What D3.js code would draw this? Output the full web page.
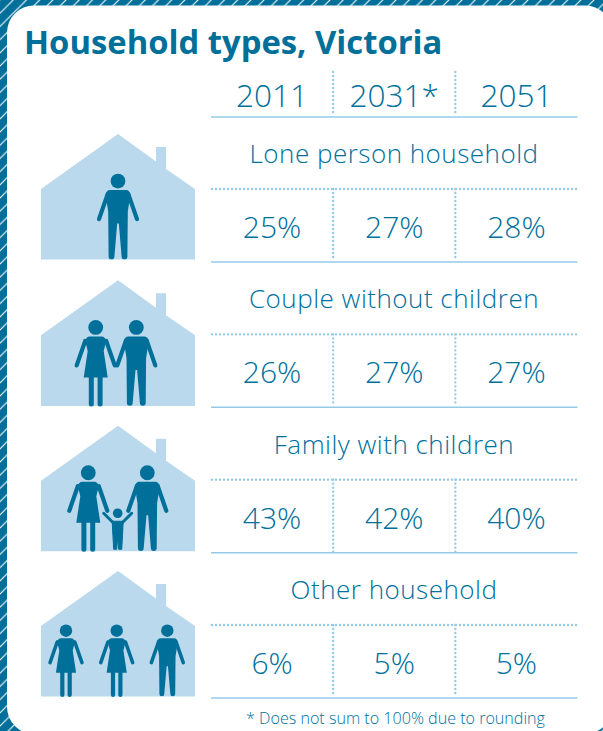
<!DOCTYPE html>
<html><head><meta charset="utf-8">
<script src="https://cdn.jsdelivr.net/npm/d3@7"></script>
<style>html,body{margin:0;padding:0;background:#fff}svg{display:block}text{font-family:"Open Sans",sans-serif;fill:#00709c}</style>
</head><body><svg id="c" width="603" height="731"></svg>
<script>
const titleText = "Household types, Victoria";
const years = ["2011","2031*","2051"];
const householdTypes = ["Lone person household","Couple without children","Family with children","Other household"];
const share2011 = [25,26,43,6];
const share2031 = [27,27,42,5];
const share2051 = [28,27,40,5];
const occupants = [["man"],["woman","man"],["woman","child","man"],["woman","woman","man"]];
const note = "* Does not sum to 100% due to rounding";

const DARK="#006f9a", HOUSE="#bad9ec", RULE="#93cbe7";
const svg=d3.select("#c");
const defs=svg.append("defs");
const pat=defs.append("pattern").attr("id","hatch").attr("width",13.2).attr("height",13.2).attr("patternUnits","userSpaceOnUse");
pat.append("rect").attr("width",13.2).attr("height",13.2).attr("fill",DARK);
pat.append("path").attr("d","M-1,14.2L14.2,-1M-3,3L3,-3M10.2,16.2L16.2,10.2").attr("stroke","#fff").attr("stroke-width",1.1);
svg.append("rect").attr("width",603).attr("height",731).attr("fill","url(#hatch)");
svg.append("rect").attr("x",7).attr("y",5.5).attr("width",605).attr("height",728.5).attr("rx",27).attr("fill","#fff");

svg.append("text").attr("x",24).attr("y",54).attr("font-size",32.8).attr("font-weight",700).style("fill",DARK).text(titleText);

const x=d3.scaleBand().domain(years).range([211,577.5]);
const y=d3.scalePoint().domain(householdTypes).range([0,436]);
const g=svg.append("g");

function dotted(sel,x1,y1,x2,y2){sel.append("line").attr("x1",x1).attr("y1",y1).attr("x2",x2).attr("y2",y2)
  .attr("stroke",RULE).attr("stroke-width",2.4).attr("stroke-linecap","round").attr("stroke-dasharray","0 4");}
function solid(sel,yy){sel.append("line").attr("x1",x.range()[0]).attr("x2",x.range()[1]).attr("y1",yy).attr("y2",yy).attr("stroke",RULE).attr("stroke-width",1.5);}

years.forEach((yr,i)=>{
  g.append("text").attr("x",x(yr)+x.bandwidth()/2).attr("y",107).attr("text-anchor","middle").attr("font-size",31.5).attr("font-weight",300).text(yr);
  if(i>0) dotted(g,x(yr),72,x(yr),116);
});
solid(g,117);

function person(sel,kind,cx,base,s){
  const p=sel.append("g").attr("transform",`translate(${cx},${base}) scale(${s})`).attr("fill",DARK);
  const limb=(a,b,c,d,w)=>p.append("line").attr("x1",a).attr("y1",b).attr("x2",c).attr("y2",d).attr("stroke",DARK).attr("stroke-width",w).attr("stroke-linecap","round");
  if(kind==="child"){
    p.append("circle").attr("cx",0).attr("cy",-38).attr("r",4.8);
    p.append("path").attr("d","M-5.5,-30L5.5,-30L4.8,-16L4,-2L1,-2L0,-14L-1,-2L-4,-2L-4.8,-16Z").attr("stroke",DARK).attr("stroke-width",1).attr("stroke-linejoin","round");
    limb(-4.5,-28.5,-14,-38,3); limb(4.5,-28.5,14,-38,3);
    return;
  }
  p.append("circle").attr("cx",0).attr("cy",-78.5).attr("r",7.4);
  limb(-10.5,-65,-19,-40.5,4.2); limb(10.5,-65,19,-40.5,4.2);
  if(kind==="man"){
    p.append("path").attr("d","M-8,-69.5L8,-69.5Q11.5,-69.5 12.5,-65L9.8,-48L9.4,-3.2A2.9,2.9 0 0 1 3.6,-3.2L0.8,-36L-0.8,-36L-3.6,-3.2A2.9,2.9 0 0 1 -9.4,-3.2L-9.8,-48L-12.5,-65Q-11.5,-69.5 -8,-69.5Z");
  } else {
    p.append("path").attr("d","M-6,-69.5L6,-69.5Q9.5,-69.5 10.5,-65L8,-55L12,-28.5L-12,-28.5L-8,-55L-10.5,-65Q-9.5,-69.5 -6,-69.5Z");
    limb(-4.4,-29,-4.4,-2,5); limb(4.4,-29,4.4,-2,5);
  }
}

const personX=[[118],[95.7,136.3],[88.3,117.7,147.3],[66,116.7,167.3]];
const personScale=[1,1,1,0.84];

householdTypes.forEach((t,r)=>{
  const o=y(t), rowG=g.append("g");
  const line=d3.line();
  const ho=o+(r>0?1:0);
  const top=134+ho, base=259.6+ho, eave=189+ho;
  rowG.append("path").attr("fill",HOUSE).attr("d",line([[41,eave],[118,top],[156,top+27.5],[156,top+13],[166,top+13],[166,top+35],[195,eave],[195,base],[41,base]])+"Z");
  occupants[r].forEach((k,j)=>person(rowG,k,personX[r][j],base,personScale[r]));
  rowG.append("text").attr("x",394).attr("y",163+o).attr("text-anchor","middle").attr("font-size",26).attr("letter-spacing",0.5).attr("font-weight",300).text(t);
  dotted(rowG,212,189+o,578,189+o);
  solid(rowG,262+o);
  const vals=[share2011[r],share2031[r],share2051[r]];
  years.forEach((yr,i)=>{
    if(i>0) dotted(rowG,x(yr),189+o,x(yr),261+o);
    rowG.append("text").attr("x",x(yr)+x.bandwidth()/2).attr("y",238+o).attr("text-anchor","middle").attr("font-size",30).attr("font-weight",300).text(vals[i]+"%");
  });
});
svg.append("text").attr("x",395.5).attr("y",724).attr("text-anchor","middle").attr("font-size",16.1).attr("font-weight",300).text(note);
</script></body></html>
